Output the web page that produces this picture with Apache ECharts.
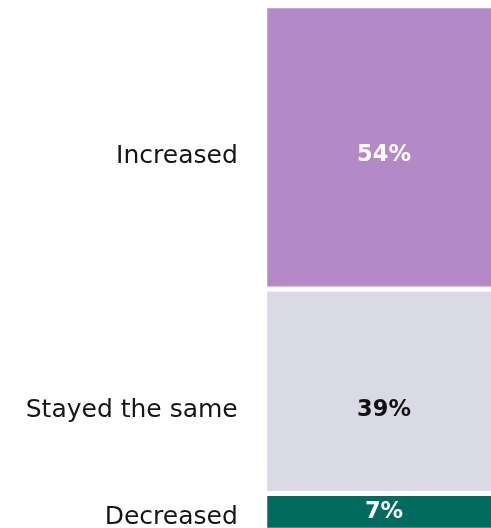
<!DOCTYPE html>
<html>
<head>
<meta charset="utf-8">
<style>
  html, body { margin: 0; padding: 0; background: #ffffff; }
  #chart { width: 491px; height: 528px; }
</style>
<script src="https://cdn.jsdelivr.net/npm/echarts@6/dist/echarts.min.js"></script>
</head>
<body>
<div id="chart"></div>
<script>
// Share of respondents per answer, top segment first
const categories = ['Increased', 'Stayed the same', 'Decreased'];
const shares = [54, 39, 7];
const valueLabels = ['54%', '39%', '7%'];

// Presentation settings for each answer
const segmentColors = ['#b389c8', '#dadae4', '#006b5e'];
const valueTextColors = ['#ffffff', '#111111', '#ffffff'];
const valueOffsets = [[0, 8], [0, 18.5], [0, 0.5]];
const nameOffsets = [[0, 9.5], [0, 19], [0, 5.5]];

const FONT = '"DejaVu Sans", sans-serif';

const chart = echarts.init(document.getElementById('chart'), null, { renderer: 'canvas' });

const series = [];
// Stacking starts at the bottom, so the list is walked from the last answer up.
for (let i = categories.length - 1; i >= 0; i--) {
  series.push({
    name: categories[i],
    type: 'bar',
    stack: 'share',
    barWidth: '100%',
    barGap: '-100%',
    data: [shares[i]],
    itemStyle: { color: segmentColors[i], borderColor: '#ffffff', borderWidth: 2.5 },
    label: {
      show: true,
      position: 'inside',
      formatter: valueLabels[i],
      color: valueTextColors[i],
      fontFamily: FONT,
      fontWeight: 'bold',
      fontSize: 22.5,
      offset: valueOffsets[i]
    },
    silent: true
  });
}
// Invisible twin stack that carries the answer names on the left side.
for (let i = categories.length - 1; i >= 0; i--) {
  series.push({
    name: categories[i] + ' label',
    type: 'bar',
    stack: 'names',
    barWidth: '100%',
    barGap: '-100%',
    data: [shares[i]],
    itemStyle: { color: 'rgba(0,0,0,0)' },
    label: {
      show: true,
      position: 'left',
      distance: 27,
      formatter: categories[i],
      color: '#161616',
      fontFamily: FONT,
      fontSize: 25,
      offset: nameOffsets[i]
    },
    silent: true,
    z: 3
  });
}

chart.setOption({
  animation: false,
  backgroundColor: '#ffffff',
  grid: {
    left: 264.75, top: 5.75, width: 238.5, height: 524.5,
    containLabel: false,
    outerBoundsMode: 'none'
  },
  xAxis: { type: 'category', data: [''], show: false },
  yAxis: { type: 'value', min: 0, max: 100, show: false },
  tooltip: { show: false },
  series: series
});
</script>
</body>
</html>
